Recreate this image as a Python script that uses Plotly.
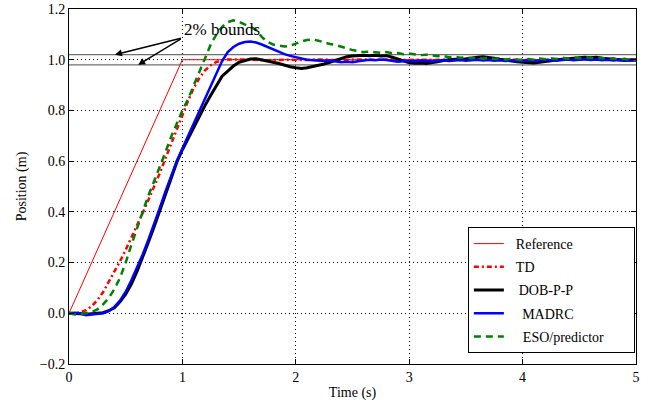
import numpy as np
import plotly.graph_objects as go

# ---------------- data ----------------
t = np.round(np.arange(0, 5.0001, 0.05), 2)

ref_t = [0, 1, 5]
ref_y = [0, 1, 1]

td_y = [
    0.0, 0.0, 0.004, 0.012, 0.028, 0.052, 0.083, 0.122, 0.163, 0.205,
    0.25, 0.297, 0.346, 0.396, 0.447, 0.498, 0.552, 0.61, 0.668, 0.725,
    0.783, 0.838, 0.888, 0.928, 0.958, 0.978, 0.991, 0.998, 1.001, 1.002,
    1.002, 1.001, 1.0, 0.999, 0.998, 0.998, 0.999, 1.0, 1.001, 1.0,
    0.999, 0.998, 0.999, 1.001, 1.002, 1.001, 0.999, 0.998, 0.999, 1.0,
    1.001, 1.002, 1.001, 1.0, 0.999, 1.0, 1.001, 1.0, 0.999, 0.998,
    0.999, 1.0, 1.001, 1.0, 0.999, 0.999, 1.0, 1.001, 1.002, 1.001,
    1.0, 0.999, 1.0, 1.001, 1.0, 0.999, 0.998, 0.999, 1.0, 1.001,
    1.0, 0.999, 0.998, 0.999, 1.0, 1.001, 1.002, 1.001, 1.0, 0.999,
    1.0, 1.001, 1.0, 0.999, 1.0, 1.001, 1.0, 0.999, 1.0, 1.001,
    1.0,
]

dob_y = [
    0.0, 0.0, -0.002, -0.004, -0.003, 0.0, 0.002, 0.01, 0.022, 0.045,
    0.075, 0.115, 0.165, 0.22, 0.28, 0.34, 0.405, 0.47, 0.535, 0.595,
    0.645, 0.69, 0.735, 0.78, 0.82, 0.86, 0.9, 0.935, 0.955, 0.975,
    0.99, 0.998, 1.003, 1.004, 1.0, 0.995, 0.99, 0.985, 0.978, 0.972,
    0.968, 0.965, 0.968, 0.972, 0.978, 0.983, 0.99, 0.997, 1.005, 1.012,
    1.015, 1.017, 1.018, 1.016, 1.018, 1.015, 1.016, 1.01, 1.003, 0.995,
    0.988, 0.986, 0.987, 0.985, 0.988, 0.992, 0.997, 1.0, 1.002, 1.0,
    1.004, 1.008, 1.01, 1.012, 1.01, 1.006, 1.002, 0.998, 0.995, 0.992,
    0.99, 0.988, 0.987, 0.99, 0.992, 0.996, 1.0, 1.002, 1.004, 1.006,
    1.008, 1.01, 1.008, 1.01, 1.006, 1.004, 1.002, 1.0, 0.998, 0.999,
    1.0,
]

madrc_y = [
    0.0, 0.002, 0.0, -0.008, -0.005, -0.002, 0.0, 0.008, 0.025, 0.05,
    0.085, 0.13, 0.18, 0.232, 0.29, 0.35, 0.415, 0.48, 0.54, 0.6,
    0.65, 0.70, 0.75, 0.80, 0.85, 0.9, 0.95, 0.995, 1.03, 1.05,
    1.063, 1.07, 1.072, 1.068, 1.06, 1.05, 1.043, 1.032, 1.022, 1.015,
    1.01, 1.005, 1.0, 0.998, 0.996, 0.995, 0.997, 0.993, 0.99, 0.992,
    0.99, 0.994, 0.998, 1.0, 0.998, 1.001, 0.999, 0.995, 0.992, 0.994,
    0.996, 0.994, 0.997, 0.995, 0.993, 0.996, 0.998, 0.995, 0.997, 0.999,
    0.996, 0.998, 1.0, 0.997, 0.999, 0.996, 0.998, 0.995, 0.997, 0.994,
    0.996, 0.998, 0.995, 0.997, 1.0, 0.998, 0.996, 0.999, 1.001, 0.998,
    1.0, 1.002, 0.999, 1.001, 0.998, 1.0, 0.997, 0.999, 0.996, 0.998,
    0.997,
]

eso_y = [
    0.0, -0.005, -0.003, 0.0, 0.005, 0.015, 0.035, 0.06, 0.095, 0.14,
    0.2, 0.27, 0.335, 0.405, 0.465, 0.52, 0.575, 0.635, 0.695, 0.75,
    0.8, 0.845, 0.9, 0.955, 1.01, 1.06, 1.1, 1.13, 1.148, 1.155,
    1.15, 1.14, 1.13, 1.118, 1.09, 1.07, 1.06, 1.055, 1.052, 1.055,
    1.065, 1.072, 1.078, 1.08, 1.075, 1.068, 1.062, 1.058, 1.05, 1.045,
    1.038, 1.034, 1.03, 1.032, 1.028, 1.027, 1.03, 1.025, 1.026, 1.022,
    1.024, 1.02, 1.018, 1.02, 1.016, 1.014, 1.015, 1.01, 1.012, 1.008,
    1.01, 1.006, 1.009, 1.004, 1.008, 1.003, 1.006, 1.0, 1.004, 1.002,
    0.998, 1.003, 1.0, 1.005, 1.002, 1.006, 1.003, 1.008, 1.004, 1.009,
    1.005, 1.01, 1.006, 1.004, 1.008, 1.003, 1.006, 1.0, 1.004, 0.998,
    1.0,
]

bounds = [1.02, 0.98]
x_range = [0, 5]
y_range = [-0.2, 1.2]

# annotation anchor points (data units)
label_pos = (1.0, 1.119)
arrow_tail = (1.0, 1.086)
arrow_tips = [(0.405, 1.02), (0.61, 0.98)]

FONT = "Liberation Serif, DejaVu Serif, serif"
SP = "\u00a0"

fig = go.Figure()

for b in bounds:
    fig.add_trace(go.Scatter(x=x_range, y=[b, b], mode="lines", showlegend=False,
                             hoverinfo="skip", line=dict(color="#6e6e6e", width=1.2)))

fig.add_trace(go.Scatter(x=ref_t, y=ref_y, mode="lines", name=SP * 2 + "Reference",
                         legendgroup="a", line=dict(color="#ff0000", width=1)))
fig.add_trace(go.Scatter(x=t, y=td_y, mode="lines", name=SP * 2 + "TD", legendgroup="b",
                         line=dict(color="#ff0000", width=2.5, dash="5px,3px,2px,3px")))
fig.add_trace(go.Scatter(x=t, y=dob_y, mode="lines", name=SP * 2 + "\u2009DOB-P-P", legendgroup="c",
                         line=dict(color="#000000", width=3)))
fig.add_trace(go.Scatter(x=t, y=madrc_y, mode="lines", name=SP * 3 + "\u2009MADRC", legendgroup="d",
                         line=dict(color="#0000ff", width=2.5)))
fig.add_trace(go.Scatter(x=t, y=eso_y, mode="lines",
                         name=SP * 4 + "ESO/predictor" + SP * 7, legendgroup="e",
                         line=dict(color="#008000", width=2.5, dash="7px,5px")))

axis_common = dict(
    showline=True, linecolor="black", linewidth=1, mirror="allticks",
    ticks="inside", ticklen=5, tickcolor="black", tickwidth=1,
    showgrid=True, gridcolor="black", gridwidth=1, griddash="1px,3px",
    zeroline=False, automargin=False,
    tickfont=dict(family=FONT, size=14, color="black"),
)

fig.update_xaxes(range=x_range, dtick=1, tick0=0,
                 title=dict(text="Time (s)", font=dict(family=FONT, size=14, color="black"), standoff=3),
                 **axis_common)
fig.update_yaxes(range=y_range, dtick=0.2, tick0=-0.2, tickformat=".1f",
                 title=dict(text="Position (m)", font=dict(family=FONT, size=14, color="black"), standoff=9),
                 **axis_common)

fig.add_annotation(x=label_pos[0], y=label_pos[1], text="2% bounds", showarrow=False,
                   xanchor="left", yanchor="middle", font=dict(family=FONT, size=17, color="black"))
for tip in arrow_tips:
    fig.add_annotation(x=tip[0], y=tip[1], ax=arrow_tail[0], ay=arrow_tail[1],
                       axref="x", ayref="y", text="", showarrow=True,
                       arrowhead=2, arrowsize=1, arrowwidth=1.4, arrowcolor="black", standoff=0)

fig.update_layout(
    width=649, height=404,
    margin=dict(l=69, r=13, t=9, b=40),
    paper_bgcolor="white", plot_bgcolor="white",
    font=dict(family=FONT, size=14, color="black"),
    legend=dict(x=0.998, y=0.031, xanchor="right", yanchor="bottom",
                bordercolor="black", borderwidth=1, bgcolor="white",
                font=dict(family=FONT, size=14, color="black"),
                tracegroupgap=2),
    showlegend=True,
)

fig.write_html("out.html")
